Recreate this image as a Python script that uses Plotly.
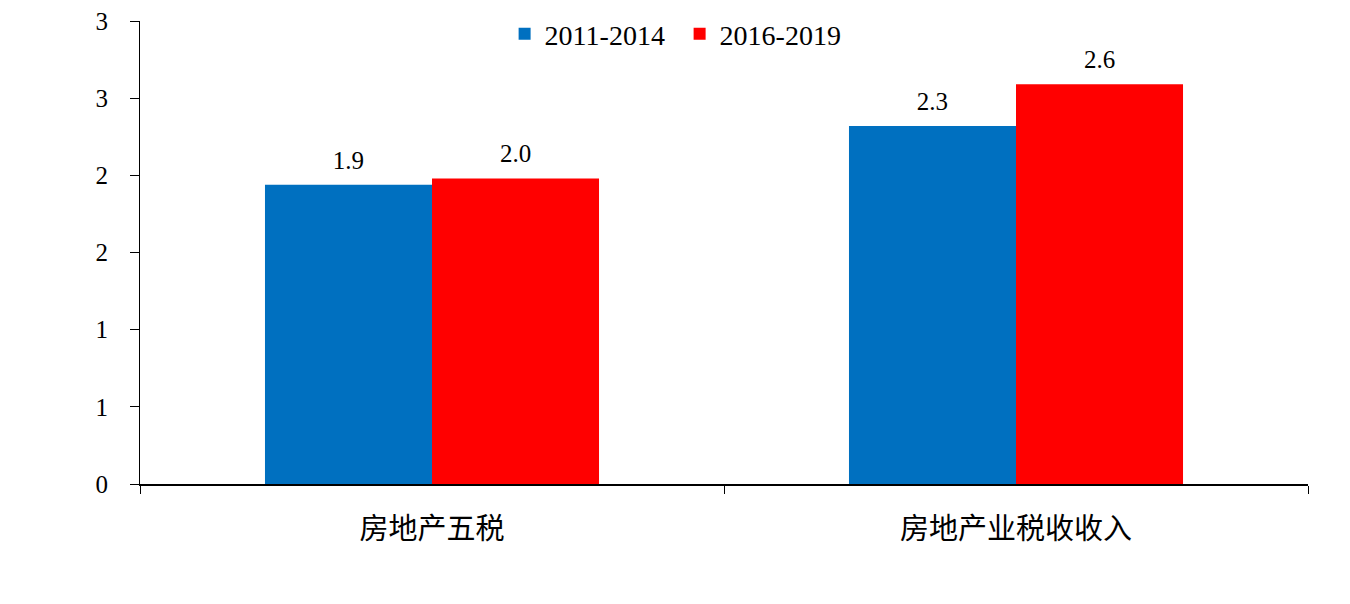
import plotly.graph_objects as go

categories = ["房地产五税", "房地产业税收收入"]
series_names = ["2011-2014", "2016-2019"]
values_2011_2014 = [1.94, 2.32]
values_2016_2019 = [1.98, 2.59]
colors = ["#0070C0", "#FF0000"]
ytick_vals = [0, 0.5, 1, 1.5, 2, 2.5, 3]
ytick_text = ["0", "1", "1", "2", "2", "3", "3"]

SERIF = "Times New Roman, Liberation Serif, serif"
GAP = 0.428

fig = go.Figure()
for i, (name, vals, col) in enumerate(zip(series_names, [values_2011_2014, values_2016_2019], colors)):
    fig.add_trace(go.Bar(
        x=categories, y=vals, name=name, offsetgroup=str(i),
        marker=dict(color=col, line=dict(width=0)),
    ))
for i, vals in enumerate([values_2011_2014, values_2016_2019]):
    fig.add_trace(go.Scatter(
        x=categories, y=vals, mode="markers+text", offsetgroup=str(i),
        marker=dict(size=14, opacity=0), showlegend=False, hoverinfo="skip",
        text=[f"{v:.1f}" for v in vals], textposition="top center", cliponaxis=False,
        textfont=dict(family=SERIF, size=25, color="#000"),
    ))

fig.update_layout(
    width=1350, height=604,
    paper_bgcolor="white", plot_bgcolor="white",
    margin=dict(l=132, r=50, t=13, b=128, autoexpand=False),
    barmode="group", bargap=GAP, bargroupgap=0,
    scattermode="group", scattergap=GAP,
    showlegend=True,
    legend=dict(orientation="h", x=0.462, xanchor="center", y=1.026, yanchor="top",
                font=dict(family=SERIF, size=28, color="#000"),
                itemwidth=30, tracegroupgap=0, bgcolor="rgba(0,0,0,0)",
                entrywidth=130, entrywidthmode="pixels"),
    font=dict(family=SERIF, color="#000"),
)
fig.update_xaxes(
    type="category", tickson="boundaries", ticks="outside", ticklen=8,
    tickcolor="#000", tickwidth=1, showline=True, linecolor="#000", linewidth=2,
    showgrid=False, automargin=False,
    tickfont=dict(family="Noto Sans CJK SC", size=29, color="#000"),
    ticklabelstandoff=18,
)
fig.update_yaxes(
    range=[0, 3.0005], tickvals=ytick_vals, ticktext=ytick_text,
    ticks="outside", ticklen=9, tickcolor="#000", tickwidth=1,
    showline=True, linecolor="#000", linewidth=1, showgrid=False, zeroline=False,
    automargin=False, ticklabeloverflow="allow",
    tickfont=dict(family=SERIF, size=25, color="#000"),
    ticklabelstandoff=17,
)
fig.write_html("out.html")
